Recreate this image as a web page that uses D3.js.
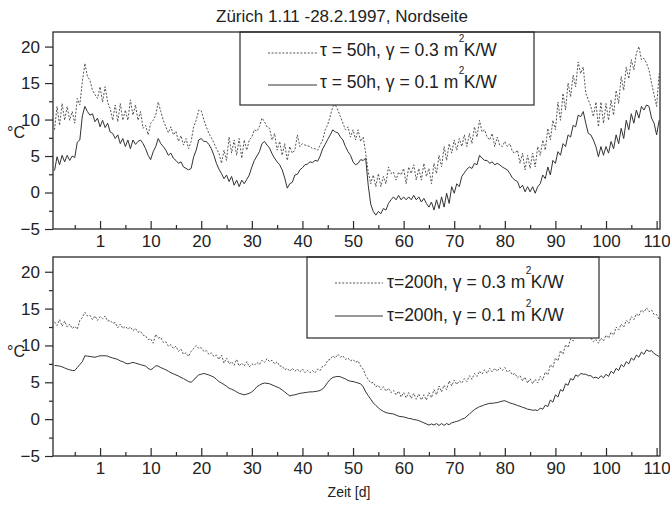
<!DOCTYPE html>
<html><head><meta charset="utf-8">
<script src="https://cdn.jsdelivr.net/npm/d3@7"></script>
<style>
body{margin:0;background:#fff}
svg{display:block}
text{font-family:"Liberation Sans", Arial, Helvetica, sans-serif; fill:#222}
</style>
</head><body>
<svg id="c" width="670" height="508"></svg>
<script>
// ---------- DATA ----------
const title = "Zürich 1.11 -28.2.1997, Nordseite";
const xLabel = "Zeit [d]";
const yLabel = "°C";
// half-day sampling grid (days), from -9 to 110.5
const days = d3.range(-9, 110.75, 0.5);
const xTickValues = [0,10,20,30,40,50,60,70,80,90,100,110];
const xTickLabels = ["1","10","20","30","40","50","60","70","80","90","100","110"];
const xMinorTicks = [-5,5,15,25,35,45,55,65,75,85,95,105];
const yTickValues = [-5,0,5,10,15,20];
const yMinorTicks = [-2.5,2.5,7.5,12.5,17.5];

const legendTop = [["τ = 50h, γ = 0.3 m","K/W"],["τ = 50h, γ = 0.1 m","K/W"]];
const legendBottom = [["τ=200h, γ = 0.3 m","K/W"],["τ=200h, γ = 0.1 m","K/W"]];

// top panel: tau = 50h, gamma = 0.3
const tau50g03 = [
8.6,11.8,9.2,12.2,9.9,11.8,9.9,11.1,9.5,12.9,
12.0,15.2,17.7,15.9,15.4,14.0,13.4,12.9,14.5,12.4,
14.5,12.4,11.5,9.9,12.0,9.7,12.2,9.9,11.3,9.9,
12.7,10.6,12.0,9.9,11.1,8.8,9.2,7.9,9.5,9.9,
10.6,12.4,11.1,9.9,9.0,8.2,9.0,7.9,8.4,7.0,
7.8,6.5,7.4,6.0,7.0,9.0,9.9,11.3,11.2,10.0,
9.0,8.1,7.5,6.8,6.0,5.4,4.0,5.8,4.4,7.6,
5.4,7.2,5.1,7.4,4.7,7.2,5.8,7.2,7.6,8.6,
8.4,9.0,10.2,9.7,9.0,8.8,7.2,8.1,5.8,7.0,
5.1,6.7,4.4,6.3,5.4,5.8,7.9,6.3,6.7,6.5,
6.4,6.3,6.0,6.0,5.8,6.5,7.2,8.6,9.3,10.5,
11.8,12.0,11.3,10.4,9.5,8.6,9.0,7.6,8.6,7.2,
8.6,7.0,7.6,5.4,2.8,1.2,2.4,0.8,2.6,0.8,
2.2,1.2,3.5,2.6,2.8,1.7,2.8,2.4,3.3,1.2,
3.5,2.6,3.8,1.7,3.3,1.7,4.0,2.2,3.3,1.2,
4.0,2.6,5.1,3.5,6.3,4.4,6.7,5.4,7.2,5.8,
7.4,6.3,7.9,6.3,8.1,6.7,9.0,7.6,9.9,8.3,
8.6,7.6,7.2,8.1,6.3,7.6,6.5,6.3,7.0,6.3,
6.7,5.6,5.4,5.8,4.0,5.4,3.1,5.1,3.3,5.4,
3.5,6.3,5.1,7.2,5.8,8.8,7.2,9.9,8.6,12.4,
9.9,13.6,11.3,15.0,13.1,16.1,14.5,17.9,16.3,17.2,
13.6,12.7,11.8,10.4,12.4,9.0,12.4,9.5,12.2,9.9,
12.7,10.6,14.0,12.2,15.9,14.0,17.2,15.6,18.2,16.8,
19.1,20.0,18.2,18.4,17.7,16.8,15.0,13.4,11.8,16.3
];
// top panel: tau = 50h, gamma = 0.1
const tau50g01 = [
3.0,4.9,3.8,5.1,4.2,5.1,4.4,5.0,4.8,6.9,
7.2,10.5,11.8,11.1,10.6,10.8,9.7,10.2,9.0,9.9,
8.9,9.5,8.3,8.1,7.4,7.9,6.7,7.4,6.3,7.2,
6.0,7.2,6.6,7.0,7.2,6.7,6.0,5.1,4.5,5.6,
6.3,7.4,6.7,6.3,5.8,5.1,5.4,4.7,4.4,4.0,
4.2,3.5,3.3,3.1,3.3,4.9,5.8,7.2,7.4,7.0,
7.0,6.6,6.0,5.1,4.0,3.2,2.6,1.9,2.4,1.5,
2.2,1.0,1.7,0.8,1.7,1.2,1.8,2.4,3.5,4.4,
5.0,5.6,6.7,7.0,6.5,6.1,5.3,4.7,4.2,3.8,
3.1,2.0,0.6,1.2,1.4,2.4,2.5,3.1,3.4,3.8,
3.9,4.2,4.1,4.4,4.3,5.0,6.0,6.6,7.3,7.9,
8.6,8.3,8.2,7.6,7.2,6.3,5.6,5.1,4.2,3.8,
4.0,4.5,4.4,4.7,1.0,-1.6,-2.6,-3.1,-2.6,-2.9,
-2.2,-2.4,-1.5,-1.0,-0.6,-1.0,-0.4,-1.0,-0.6,-1.0,
-0.6,-1.0,-0.4,-1.0,-0.6,-1.3,-0.8,-1.5,-2.0,-1.3,
-2.4,-1.0,-2.2,-0.6,-2.0,-0.1,-1.5,0.8,-0.1,1.2,
0.8,2.2,2.7,3.2,3.5,3.3,4.0,3.8,5.1,4.7,
4.4,4.4,4.0,4.2,3.8,4.0,3.8,3.5,3.3,3.1,
2.6,2.0,1.7,1.5,0.6,1.0,0.1,0.8,0.1,0.8,
-0.1,0.8,1.2,2.4,1.9,3.5,2.4,4.4,4.0,5.6,
5.1,6.7,6.3,7.9,7.6,9.2,9.0,10.6,10.4,11.1,
9.5,8.1,7.9,7.2,6.3,4.9,6.3,5.1,6.3,5.4,
7.0,6.0,7.9,6.7,8.8,7.4,9.9,8.6,10.8,9.5,
11.3,10.2,11.8,11.3,12.0,11.8,10.2,9.5,7.9,9.9
];
// bottom panel: tau = 200h, gamma = 0.3
const tau200g03 = [
13.2,12.7,13.5,12.6,13.3,12.5,12.9,12.3,12.6,12.2,
13.4,13.8,14.5,14.0,14.1,13.5,14.0,13.4,13.9,13.6,
14.0,13.3,13.4,13.0,13.1,12.4,12.9,12.3,12.6,12.2,
12.5,12.0,12.3,11.8,11.9,11.4,11.3,10.8,10.9,10.3,
11.5,11.0,11.1,10.4,10.5,9.9,10.1,9.6,9.9,9.2,
9.5,8.8,9.0,8.5,9.2,9.6,10.0,9.6,9.7,9.2,
9.3,8.8,9.0,8.5,8.7,8.1,8.7,7.6,8.3,7.5,
7.8,7.3,8.1,7.2,7.6,7.2,7.8,7.1,7.5,7.3,
7.7,7.4,8.0,7.7,8.2,7.8,8.0,7.5,7.8,7.2,
7.2,6.7,6.9,6.5,6.9,6.5,6.8,6.4,6.8,6.3,
6.6,6.3,6.6,6.3,6.8,6.6,7.2,7.3,8.0,8.1,
8.6,8.3,8.8,8.4,8.6,8.1,8.3,7.9,8.1,7.7,
7.9,7.2,6.8,5.9,5.4,4.9,5.0,4.4,4.6,4.0,
4.4,3.8,4.2,3.6,3.9,3.3,3.8,3.0,3.6,2.9,
3.6,2.8,3.5,2.7,3.4,2.6,3.3,2.6,3.6,2.9,
4.0,3.3,4.5,3.7,4.6,4.0,5.2,4.5,5.3,4.7,
5.2,4.9,5.5,5.1,5.9,5.4,6.2,5.8,6.5,6.1,
6.7,6.2,6.9,6.4,6.9,6.5,7.0,6.6,7.0,6.4,
6.6,6.0,6.2,5.6,5.9,5.2,5.7,4.9,5.5,4.8,
5.4,4.9,5.8,5.3,6.4,6.0,7.4,7.0,8.3,7.9,
9.3,8.8,10.1,9.7,10.9,10.6,11.6,11.3,12.0,11.6,
11.7,11.1,11.0,10.5,10.8,10.3,11.0,10.6,11.4,11.0,
11.8,11.4,12.5,12.1,12.9,12.5,13.4,13.0,13.9,13.5,
14.3,14.0,14.8,14.5,15.1,14.6,14.8,14.2,14.2,13.5
];
// bottom panel: tau = 200h, gamma = 0.1
const tau200g01 = [
7.3,7.25,7.2,7.1,6.95,6.8,6.7,6.6,6.6,7.0,
7.4,7.8,8.6,8.55,8.5,8.45,8.4,8.5,8.6,8.6,
8.6,8.55,8.4,8.3,8.2,8.1,7.9,7.8,7.6,7.5,
7.6,7.7,7.6,7.5,7.4,7.3,7.2,6.9,6.7,6.9,
7.25,7.2,7.0,6.85,6.7,6.5,6.3,6.15,6.0,5.85,
5.65,5.5,5.3,5.1,5.0,5.3,5.7,6.0,6.1,6.2,
6.1,6.0,5.85,5.7,5.4,5.1,4.9,4.7,4.45,4.2,
4.05,3.9,3.7,3.5,3.4,3.3,3.4,3.5,3.7,4.0,
4.4,4.6,4.8,4.9,4.85,4.8,4.65,4.5,4.35,4.2,
3.95,3.7,3.4,3.15,3.25,3.3,3.4,3.5,3.55,3.6,
3.65,3.7,3.7,3.75,3.8,3.9,4.1,4.5,5.0,5.4,
5.65,5.75,5.8,5.75,5.6,5.45,5.25,5.15,5.1,5.0,
4.9,4.8,4.4,3.7,3.2,2.7,2.2,1.85,1.55,1.25,
1.05,0.9,0.8,0.75,0.7,0.55,0.4,0.35,0.3,0.2,
0.1,0.05,-0.05,-0.1,-0.2,-0.35,-0.5,-0.65,-0.8,-0.65,
-0.8,-0.6,-0.85,-0.6,-0.85,-0.6,-0.75,-0.5,-0.4,-0.3,
-0.2,0.0,0.1,0.4,0.7,1.0,1.3,1.5,1.7,1.8,
1.95,2.05,2.15,2.15,2.2,2.25,2.35,2.45,2.5,2.35,
2.2,2.1,2.0,1.85,1.75,1.6,1.5,1.35,1.3,1.2,
1.25,1.15,1.5,1.35,1.9,1.7,2.6,2.3,3.3,3.0,
4.0,3.8,4.8,4.6,5.5,5.3,6.0,5.8,6.2,6.1,
6.1,5.9,5.9,5.6,5.7,5.5,5.9,5.6,6.1,5.8,
6.5,6.2,6.9,6.6,7.4,7.1,7.8,7.5,8.3,8.0,
8.7,8.4,9.1,8.8,9.4,9.2,9.3,8.9,8.7,8.5
];

// ---------- DRAW ----------
const svg = d3.select("#c");
const left = 53, right = 660;
const x = d3.scaleLinear().domain([-9.3, 110.67]).range([left, right]);
const ink = "#2a2a2a";

svg.append("text").attr("x", 342).attr("y", 22).attr("text-anchor","middle")
  .style("font-size","17px").text(title);

function panel(id, top, bottom, s03, s01, legend, box, yLab) {
  const y = d3.scaleLinear().domain([-5, 22]).range([bottom, top]);
  const g = svg.append("g");
  g.append("clipPath").attr("id", "clip"+id).append("rect")
    .attr("x", left).attr("y", top).attr("width", right-left).attr("height", bottom-top);

  const line = d3.line().x((d,i)=>x(days[i])).y(d=>y(d));
  const lg = g.append("g").attr("clip-path", "url(#clip"+id+")");
  lg.append("path").datum(s03).attr("d", line).attr("fill","none")
    .attr("stroke","#555").attr("stroke-width",1).attr("stroke-dasharray","2,1.6");
  lg.append("path").datum(s01).attr("d", line).attr("fill","none")
    .attr("stroke","#333").attr("stroke-width",1);

  // legend
  const L = g.append("g");
  L.append("rect").attr("x", box.x).attr("y", box.y).attr("width", box.w).attr("height", box.h)
    .attr("fill","#fff").attr("stroke", ink).attr("stroke-width",1.2);
  legend.forEach((lab, i) => {
    const ly = box.rows[i];
    L.append("line").attr("x1", box.lx1).attr("x2", box.lx2).attr("y1", ly).attr("y2", ly)
      .attr("stroke", i===0 ? "#555" : "#333").attr("stroke-width",1)
      .attr("stroke-dasharray", i===0 ? "2,1.6" : null);
    const t = L.append("text").attr("x", box.tx).attr("y", ly + box.dy).style("font-size","17.5px");
    t.append("tspan").text(lab[0]);
    t.append("tspan").attr("dy", -14).attr("dx", 0.5).style("font-size","10px").text("2");
    t.append("tspan").attr("dy", 14).attr("dx", -0.5).text(lab[1]);
  });

  // frame
  g.append("rect").attr("x", left).attr("y", top).attr("width", right-left).attr("height", bottom-top)
    .attr("fill","none").attr("stroke", ink).attr("stroke-width",1.3);

  // axes
  const xa = g.append("g").attr("transform", `translate(0,${bottom})`)
    .call(d3.axisBottom(x).tickValues(xTickValues).tickFormat((d,i)=>xTickLabels[i])
      .tickSizeInner(-8).tickSizeOuter(0).tickPadding(6));
  const xm = g.append("g").attr("transform", `translate(0,${bottom})`)
    .call(d3.axisBottom(x).tickValues(xMinorTicks).tickFormat("").tickSizeInner(-4).tickSizeOuter(0));
  const ya = g.append("g").attr("transform", `translate(${left},0)`)
    .call(d3.axisLeft(y).tickValues(yTickValues).tickSizeInner(8).tickSizeOuter(0).tickPadding(5));
  const ym = g.append("g").attr("transform", `translate(${left},0)`)
    .call(d3.axisLeft(y).tickValues(yMinorTicks).tickFormat("").tickSizeInner(4).tickSizeOuter(0));
  [xa, xm, ya, ym].forEach(a => {
    a.select(".domain").remove();
    a.selectAll("line").attr("stroke", ink).attr("stroke-width", 1.2);
    a.selectAll("text").style("font-size","17px").style("font-family",'"Liberation Sans", Arial, sans-serif').attr("fill","#222");
  });

  g.append("text").attr("x", 7).attr("y", yLab).style("font-size","16px").text(yLabel);
}

panel("t", 32, 229, tau50g03, tau50g01, legendTop,
  {x:240, y:32, w:294, h:73, lx1:268, lx2:317, tx:320, rows:[53, 85], dy:3}, 138);
panel("b", 257, 456, tau200g03, tau200g01, legendBottom,
  {x:307, y:257, w:292, h:81, lx1:335, lx2:383, tx:387, rows:[283, 316], dy:5}, 357);

svg.append("text").attr("x", 349).attr("y", 497).attr("text-anchor","middle")
  .style("font-size","14px").text(xLabel);
</script>
</body></html>
